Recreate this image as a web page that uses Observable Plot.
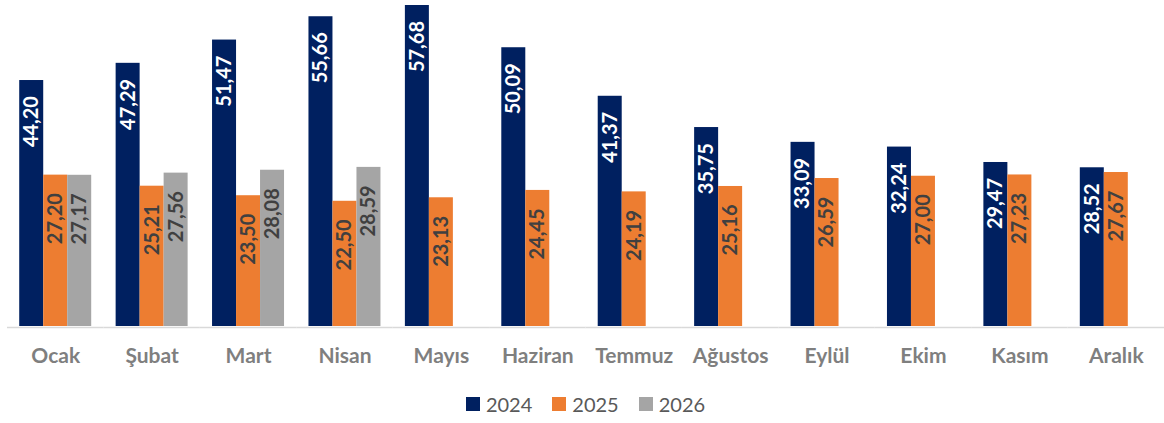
<!DOCTYPE html>
<html>
<head>
<meta charset="utf-8">
<script src="https://cdn.jsdelivr.net/npm/d3@7"></script>
<script src="https://cdn.jsdelivr.net/npm/@observablehq/plot@0.6"></script>
<style>
  html, body { margin: 0; padding: 0; background: #fff; }
  body { width: 1164px; height: 423px; overflow: hidden; font-family: Lato, "Open Sans", sans-serif; }
  #chart svg { display: block; }
  #legend { display: flex; justify-content: center; align-items: center; margin-left: 7px; height: 43px; padding-top: 2px; }
  .item { display: flex; align-items: center; margin: 0 10px; }
  .sw { width: 14px; height: 14px; margin-right: 6px; }
  .lab { font-size: 20px; color: #595959; line-height: 20px; }
</style>
</head>
<body>
<div id="chart"></div>
<div id="legend"></div>
<script>
const months = ["Ocak", "Şubat", "Mart", "Nisan", "Mayıs", "Haziran", "Temmuz", "Ağustos", "Eylül", "Ekim", "Kasım", "Aralık"];
const years = ["2024", "2025", "2026"];
const v2024 = [44.20, 47.29, 51.47, 55.66, 57.68, 50.09, 41.37, 35.75, 33.09, 32.24, 29.47, 28.52];
const v2025 = [27.20, 25.21, 23.50, 22.50, 23.13, 24.45, 24.19, 25.16, 26.59, 27.00, 27.23, 27.67];
const v2026 = [27.17, 27.56, 28.08, 28.59, null, null, null, null, null, null, null, null];
const colors = ["#002060", "#ED7D31", "#A5A5A5"];

const series = [v2024, v2025, v2026];
const data = [];
months.forEach((m, i) => {
  series.forEach((s, j) => {
    if (s[i] != null) data.push({month: m, year: years[j], value: s[i]});
  });
});
const fmt = v => d3.format(".2f")(v).replace(".", ",");
const maxV = d3.max(data, d => d.value);

const chart = Plot.plot({
  width: 1164,
  height: 380,
  marginTop: 5,
  marginBottom: 54,
  marginLeft: 7,
  marginRight: 0,
  style: {fontFamily: "Lato, 'Open Sans', sans-serif", background: "#fff"},
  fx: {domain: months, padding: 0, round: false, label: null},
  x: {domain: years, paddingInner: 0, paddingOuter: 0.509, round: false, axis: null},
  y: {domain: [0, maxV], axis: null},
  color: {domain: years, range: colors},
  marks: [
    Plot.ruleY([0], {stroke: "#d9d9d9", strokeWidth: 1.6, dy: 1}),
    Plot.barY(data, {fx: "month", x: "year", y: "value", fill: "year"}),
    Plot.text(data.filter(d => d.year === "2024"), {
      fx: "month", x: "year", y: "value", text: d => fmt(d.value),
      rotate: -90, textAnchor: "end", dy: 15.5, fill: "white",
      fontSize: 20, fontWeight: "bold"
    }),
    Plot.text(data.filter(d => d.year !== "2024"), {
      fx: "month", x: "year", y: "value", text: d => fmt(d.value),
      rotate: -90, textAnchor: "end", dy: 18, fill: "#404040",
      fontSize: 20, fontWeight: "bold"
    }),
    Plot.axisFx({anchor: "bottom", tickSize: 0, tickPadding: 22, label: null,
      fontSize: 21, fontWeight: "bold", fill: "#7f7f7f"})
  ]
});
document.getElementById("chart").appendChild(chart);

const legend = document.getElementById("legend");
years.forEach((y, i) => {
  const it = document.createElement("div");
  it.className = "item";
  const sw = document.createElement("div");
  sw.className = "sw";
  sw.style.background = colors[i];
  const lb = document.createElement("span");
  lb.className = "lab";
  lb.textContent = y;
  it.appendChild(sw); it.appendChild(lb);
  legend.appendChild(it);
});
</script>
</body>
</html>
